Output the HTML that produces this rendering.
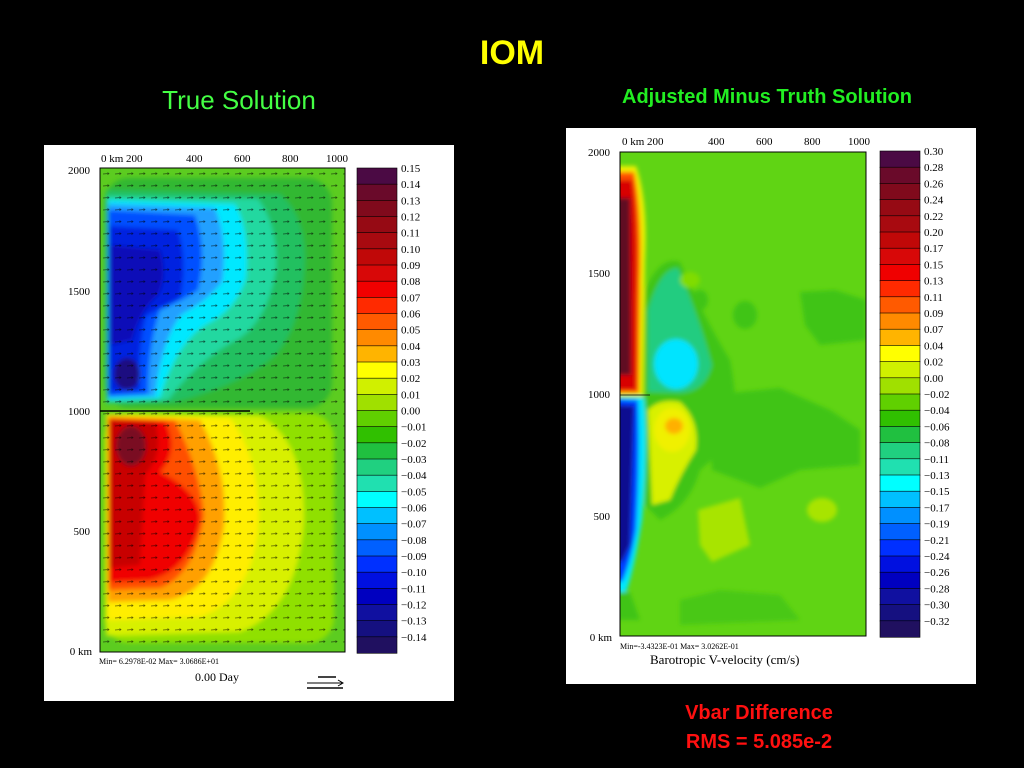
<!DOCTYPE html>
<html><head><meta charset="utf-8"><style>
html,body{margin:0;padding:0;background:#000;width:1024px;height:768px;overflow:hidden}
svg{position:absolute;left:0;top:0}
</style></head><body>
<svg width="1024" height="768" viewBox="0 0 1024 768" xmlns="http://www.w3.org/2000/svg">
<defs>
<filter id="b" filterUnits="userSpaceOnUse" x="0" y="0" width="1024" height="768"><feGaussianBlur stdDeviation="2.5"/></filter>
<filter id="b2" filterUnits="userSpaceOnUse" x="0" y="0" width="1024" height="768"><feGaussianBlur stdDeviation="2"/></filter>
<clipPath id="cl"><rect x="100" y="168" width="245" height="484"/></clipPath>
<clipPath id="cr"><rect x="620" y="152" width="246" height="484"/></clipPath>
<pattern id="arr" x="100" y="168" width="12" height="12" patternUnits="userSpaceOnUse">
<path d="M3 6 L9 5.5 M7.5 4.5 L9 5.5 L7.5 6.7" stroke="#000" stroke-width="0.7" fill="none"/>
</pattern>
</defs>
<text x="512" y="64" fill="#ffff00" font-family="Liberation Sans,sans-serif" font-weight="bold" font-size="34" text-anchor="middle">IOM</text>
<text x="239" y="109" fill="#44ff44" font-family="Liberation Sans,sans-serif" font-size="26" text-anchor="middle">True Solution</text>
<text x="767" y="103" fill="#22ee22" font-family="Liberation Sans,sans-serif" font-weight="bold" font-size="20" text-anchor="middle">Adjusted Minus Truth Solution</text>
<text x="759" y="719" fill="#ff1010" font-family="Liberation Sans,sans-serif" font-weight="bold" font-size="20" text-anchor="middle">Vbar Difference</text>
<text x="759" y="748" fill="#ff1010" font-family="Liberation Sans,sans-serif" font-weight="bold" font-size="20" text-anchor="middle">RMS = 5.085e-2</text>

<!-- LEFT PANEL -->
<rect x="44" y="145" width="410" height="556" fill="#fff"/>
<g clip-path="url(#cl)">
<rect x="100" y="168" width="245" height="484" fill="#5ccc20"/>
<g filter="url(#b)">
<rect x="104" y="178" width="228" height="230" rx="25" fill="#30b830"/>
<path d="M106 190 L280 194 Q305 215 305 260 Q302 330 272 358 Q240 385 175 402 L106 404Z" fill="#20c060"/>
<path d="M107 196 L258 199 Q278 225 276 270 Q268 318 240 338 Q200 358 168 400 L107 402Z" fill="#20d8a0"/>
<path d="M108 200 L235 204 Q250 230 246 278 Q236 310 205 325 Q175 345 160 398 L108 400Z" fill="#00e8ff"/>
<path d="M108 204 L215 208 Q228 240 222 282 Q206 302 182 314 Q162 338 155 396 L108 398Z" fill="#20a0ff"/>
<path d="M108 210 L195 215 Q207 250 198 290 Q180 302 160 310 Q148 345 148 394 L108 396Z" fill="#0050ff"/>
<path d="M109 226 L178 230 Q188 262 180 298 Q160 308 146 316 Q137 350 140 390 L109 392Z" fill="#0020e0"/>
<path d="M110 245 L160 250 Q168 275 158 295 Q140 310 132 340 L110 345Z" fill="#0808b8"/>
<ellipse cx="127" cy="374" rx="13" ry="16" fill="#1a1080"/>
<rect x="104" y="413" width="230" height="230" rx="25" fill="#90e000"/>
<path d="M106 414 L260 416 Q305 440 304 520 Q298 610 240 632 L106 636Z" fill="#d8f000"/>
<path d="M107 415 L230 418 Q262 460 258 530 Q250 600 200 617 L107 620Z" fill="#ffee00"/>
<path d="M108 416 L200 420 Q228 470 224 525 Q215 590 170 600 L108 602Z" fill="#ffa000"/>
<path d="M108 418 L175 420 Q200 470 204 515 Q195 575 160 588 L108 590Z" fill="#ff5000"/>
<path d="M109 419 L165 421 Q180 450 160 472 Q200 492 200 520 Q190 570 150 580 L109 582Z" fill="#f00000"/>
<path d="M110 420 L155 423 Q165 452 145 475 L140 565 L110 568Z" fill="#c80000"/>
<ellipse cx="131" cy="446" rx="15" ry="20" fill="#7a0a20"/>
</g>
<rect x="100" y="168" width="245" height="484" fill="url(#arr)" opacity="0.6"/>
<line x1="100" y1="411" x2="250" y2="411" stroke="#000" stroke-width="1.5"/>
</g>
<rect x="100" y="168" width="245" height="484" fill="none" stroke="#000" stroke-width="1"/>
<g font-family="Liberation Serif,serif" font-size="11" fill="#000">
<text x="101" y="162">0 km 200</text><text x="186" y="162">400</text><text x="234" y="162">600</text><text x="282" y="162">800</text><text x="326" y="162">1000</text>
<text x="90" y="174" text-anchor="end">2000</text><text x="90" y="295" text-anchor="end">1500</text><text x="90" y="415" text-anchor="end">1000</text><text x="90" y="535" text-anchor="end">500</text><text x="92" y="655" text-anchor="end">0 km</text>
<text x="195" y="681" font-size="12">0.00 Day</text>
<text x="99" y="664" font-size="8">Min= 6.2978E-02  Max= 3.0686E+01</text>
</g>
<line x1="307" y1="683" x2="342" y2="683" stroke="#000"/><path d="M338 680 L343 683 L338 686" stroke="#000" fill="none"/>
<rect x="318" y="676" width="18" height="2" fill="#444"/><rect x="307" y="687" width="36" height="2" fill="#444"/>
<g id="cbl"></g>

<!-- RIGHT PANEL -->
<rect x="566" y="128" width="410" height="556" fill="#fff"/>
<g clip-path="url(#cr)">
<rect x="620" y="152" width="246" height="484" fill="#60d414"/>
<g filter="url(#b2)">
<path d="M645 290 Q660 255 680 262 Q705 320 730 360 Q738 400 735 440 L700 470 Q690 505 660 520 L645 505Z" fill="#40c418"/>
<path d="M709 395 L780 388 L830 410 L860 430 L860 465 L800 470 L760 488 L712 470Z" fill="#40c418"/>
<path d="M800 292 L835 290 L866 300 L866 340 L820 345 L805 325Z" fill="#40c418"/>
<ellipse cx="745" cy="315" rx="12" ry="14" fill="#40c418"/>
<ellipse cx="700" cy="300" rx="8" ry="10" fill="#40c418"/>
<path d="M680 600 L720 590 L780 595 L800 620 L680 625Z" fill="#48c814"/>
<path d="M648 310 Q660 268 678 268 Q700 320 712 365 Q705 392 680 393 L648 392Z" fill="#20cc80"/>
<ellipse cx="676" cy="364" rx="22" ry="25" fill="#00e4ff"/>
<path d="M648 410 Q660 398 680 402 Q700 420 696 450 Q680 475 670 500 L652 505Z" fill="#d8f000"/>
<ellipse cx="672" cy="430" rx="18" ry="22" fill="#f0f000"/>
<ellipse cx="674" cy="426" rx="9" ry="8" fill="#ffb000"/>
<path d="M698 510 L740 498 L750 545 L712 562 L700 545Z" fill="#a8e400"/>
<ellipse cx="822" cy="510" rx="15" ry="12" fill="#a8e400"/>
<ellipse cx="690" cy="280" rx="10" ry="8" fill="#80dc00"/>
<path d="M600 166 L636 166 Q648 200 645 260 L643 396 L600 396Z" fill="#f0f000"/>
<path d="M600 172 L634 172 Q642 210 640 280 L639 393 L600 393Z" fill="#ff5000"/>
<path d="M600 180 L632 180 Q638 220 636 300 L636 390 L600 390Z" fill="#d80000"/>
<path d="M600 198 L630 198 L631 375 L600 375Z" fill="#600a20"/>
<path d="M600 397 L644 397 Q648 450 642 520 Q634 570 626 592 L600 592Z" fill="#00e8ff"/>
<path d="M600 398 L638 400 Q640 460 636 530 Q630 565 622 582 L600 582Z" fill="#0040ff"/>
<path d="M600 404 L634 406 L630 545 L622 562 L600 562Z" fill="#101090"/>
<path d="M600 592 L630 592 L640 620 L600 620Z" fill="#40c418"/>
</g>
</g>
<line x1="620" y1="395" x2="650" y2="395" stroke="#000" stroke-width="0.8"/>
<rect x="620" y="152" width="246" height="484" fill="none" stroke="#000" stroke-width="1"/>
<g font-family="Liberation Serif,serif" font-size="11" fill="#000">
<text x="622" y="145">0 km 200</text><text x="708" y="145">400</text><text x="756" y="145">600</text><text x="804" y="145">800</text><text x="848" y="145">1000</text>
<text x="610" y="156" text-anchor="end">2000</text><text x="610" y="277" text-anchor="end">1500</text><text x="610" y="398" text-anchor="end">1000</text><text x="610" y="520" text-anchor="end">500</text><text x="612" y="641" text-anchor="end">0 km</text>
<text x="620" y="649" font-size="8">Min=-3.4323E-01  Max= 3.0262E-01</text>
<text x="650" y="664" font-size="13">Barotropic V-velocity (cm/s)</text>
</g>
<g id="cbr"></g>
</svg>
<script>
var cols=['#4b0a44','#6a0a2a','#800a1c','#960a14','#a80a10','#c00808','#d80808','#f00000','#ff2a00','#ff5a00','#ff8a00','#ffb400','#ffff00','#d0f000','#a0e000','#60d000','#30c000','#20c040','#20d080','#20e0b0','#00ffff','#00c0ff','#0090ff','#0060ff','#0030ff','#0010e0','#0000c0','#1010a0','#151080','#201060'];
var L=['0.15','0.14','0.13','0.12','0.11','0.10','0.09','0.08','0.07','0.06','0.05','0.04','0.03','0.02','0.01','0.00','\u22120.01','\u22120.02','\u22120.03','\u22120.04','\u22120.05','\u22120.06','\u22120.07','\u22120.08','\u22120.09','\u22120.10','\u22120.11','\u22120.12','\u22120.13','\u22120.14'];
var R=['0.30','0.28','0.26','0.24','0.22','0.20','0.17','0.15','0.13','0.11','0.09','0.07','0.04','0.02','0.00','\u22120.02','\u22120.04','\u22120.06','\u22120.08','\u22120.11','\u22120.13','\u22120.15','\u22120.17','\u22120.19','\u22120.21','\u22120.24','\u22120.26','\u22120.28','\u22120.30','\u22120.32'];
function cb(id,x,y,h,labs){var g=document.getElementById(id),s='',d=h/30;
for(var i=0;i<30;i++){s+='<rect x="'+x+'" y="'+(y+i*d)+'" width="40" height="'+(d+0.3)+'" fill="'+cols[i]+'" stroke="#000" stroke-width="0.6"/>';
s+='<text x="'+(x+44)+'" y="'+(y+i*d+4)+'" font-family="Liberation Serif,serif" font-size="11" fill="#000">'+labs[i]+'</text>';}
g.innerHTML=s;}
cb('cbl',357,168,485,L);cb('cbr',880,151,486,R);
</script>
</body></html>
